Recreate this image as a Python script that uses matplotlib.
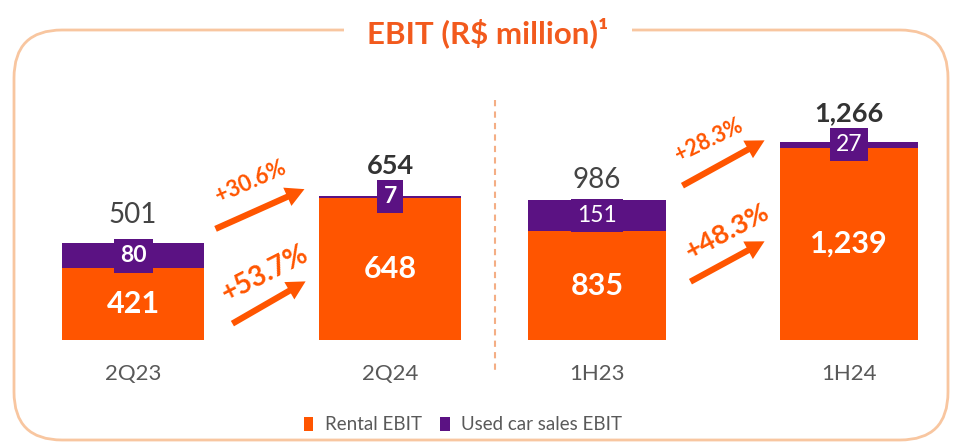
import matplotlib
matplotlib.use('Agg')
import matplotlib.pyplot as plt
from matplotlib.patches import FancyBboxPatch, FancyArrowPatch

plt.rcParams['font.family'] = ['Lato', 'DejaVu Sans']

# ---------------- data ----------------
categories = ['2Q23', '2Q24', '1H23', '1H24']
rental_ebit = [421, 648, 835, 1239]
used_car_ebit = [80, 7, 151, 27]
total_ebit = [501, 654, 986, 1266]
growth_total = ['+30.6%', '+28.3%']
growth_rental = ['+53.7%', '+48.3%']
series_names = ['Rental EBIT', 'Used car sales EBIT']

# ---------------- style ----------------
ORANGE = '#FF5500'
PURPLE = '#5B1283'
TITLE_ORANGE = '#F25A1D'
BORDER = '#F8C6A0'
GRAY = '#595959'

W, H = 955, 445
fig = plt.figure(figsize=(W / 100, H / 100), dpi=100)

bg = fig.add_axes([0, 0, 1, 1])
bg.set_xlim(0, W)
bg.set_ylim(H, 0)
bg.axis('off')


def rect(x0, x1, ytop, ybot):
    return [x0 / W, 1 - ybot / H, (x1 - x0) / W, (ybot - ytop) / H]


# panel layout: pixel extents, bar-centre px, px per category, value at baseline, px per unit
panels = [
    dict(idx=[0, 1], px=(20, 480), c0=133, step=257, base=190, ppu=0.3105, width=0.553),
    dict(idx=[2, 3], px=(500, 945), c0=597, step=252, base=310, ppu=0.2071, width=0.55),
]
Y_TOP, Y_BOT = 60, 340
total_offsets_px = [28, 30, 20, 29]
total_bold = [False, True, False, True]
box_bold = [True, True, False, False]

handles = None
for p in panels:
    ax = fig.add_axes(rect(p['px'][0], p['px'][1], Y_TOP, Y_BOT))
    ax.patch.set_alpha(0)
    ax.set_xlim((p['px'][0] - p['c0']) / p['step'], (p['px'][1] - p['c0']) / p['step'])
    ylo = p['base']
    ax.set_ylim(ylo, ylo + (Y_BOT - Y_TOP) / p['ppu'])
    xs = list(range(len(p['idx'])))
    r = [rental_ebit[i] for i in p['idx']]
    u = [used_car_ebit[i] for i in p['idx']]
    b1 = ax.bar(xs, r, p['width'], color=ORANGE, label=series_names[0])
    b2 = ax.bar(xs, u, p['width'], bottom=r, color=PURPLE, label=series_names[1])
    handles = [b1, b2]
    for x, i in zip(xs, p['idx']):
        rv, uv, tv = rental_ebit[i], used_car_ebit[i], total_ebit[i]
        ax.text(x, (ylo + rv) / 2, f'{rv:,}', ha='center', va='center',
                color='white', fontsize=22, weight='bold')
        ax.text(x, rv + uv / 2, f'{uv:,}', ha='center', va='center',
                color='white', fontsize=16.5,
                weight='bold' if box_bold[i] else 'normal', zorder=5,
                bbox=dict(boxstyle='square,pad=0.27', fc=PURPLE, ec='none'))
        ax.annotate(f'{tv:,}', xy=(x, rv + uv), xytext=(0, total_offsets_px[i] * 0.72),
                    textcoords='offset points', ha='center', va='center',
                    fontsize=20 if not total_bold[i] else 19.5,
                    weight='bold' if total_bold[i] else 'normal',
                    color='#333333' if total_bold[i] else '#444444')
    ax.set_xticks(xs, [categories[i] for i in p['idx']])
    ax.tick_params(axis='x', length=0, pad=17, labelsize=16, labelcolor=GRAY)
    ax.set_yticks([])
    for s in ax.spines.values():
        s.set_visible(False)

# border and title
bg.add_patch(FancyBboxPatch((14, 30), 934, 410, boxstyle='round,pad=0,rounding_size=48',
                            ec=BORDER, fc='none', lw=2))
bg.text(488, 33, 'EBIT (R$ million)¹', ha='center', va='center', fontsize=22.5,
        weight='bold', color=TITLE_ORANGE,
        bbox=dict(boxstyle='square,pad=0.75', fc='white', ec='none'))

# separator
bg.plot([495, 495], [100, 372], color='#F4AE85', lw=1.5, ls=(0, (3, 2.5)))

# growth arrows and labels
arrows = [((213, 230), (307, 188)), ((230, 325), (308, 280)),
          ((680, 187), (767, 139)), ((688, 283), (767, 240))]
for a, b in arrows:
    bg.add_patch(FancyArrowPatch(a, b, arrowstyle='simple,head_width=1.6,head_length=1.5,tail_width=0.5',
                                 mutation_scale=9, color=ORANGE, lw=0))
labels = [((251, 182), growth_total[0], 24, 16),
          ((265, 274), growth_rental[0], 27, 20),
          ((709, 140), growth_total[1], 26, 15.5),
          ((727, 232), growth_rental[1], 28, 19.5)]
for (x, y), s, rot, fs in labels:
    bg.text(x, y, s, ha='center', va='center', rotation=rot, rotation_mode='anchor',
            fontsize=fs, weight='bold', color=ORANGE)

fig.legend(handles=handles, labels=series_names, loc='center',
           bbox_to_anchor=(463 / W, 1 - 425 / H), ncol=2, frameon=False,
           fontsize=13.5, labelcolor=GRAY, handlelength=0.5, handleheight=0.8,
           handletextpad=0.6, columnspacing=1.0)

fig.savefig('out.png', dpi=100)
